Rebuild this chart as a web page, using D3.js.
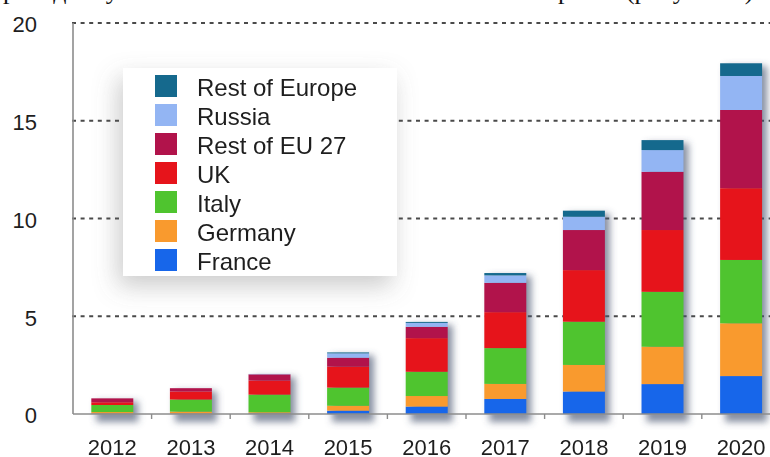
<!DOCTYPE html>
<html>
<head>
<meta charset="utf-8">
<script src="https://cdn.jsdelivr.net/npm/d3@7"></script>
<style>
  html, body { margin: 0; padding: 0; background: #fff; }
  svg { display: block; }
</style>
</head>
<body>
<svg id="chart" width="770" height="457"></svg>
<script>
// Installed capacity by market, stacked per year
const years = ["2012", "2013", "2014", "2015", "2016", "2017", "2018", "2019", "2020"];
const seriesNames = ["France", "Germany", "Italy", "UK", "Rest of EU 27", "Russia", "Rest of Europe"];
const seriesColors = ["#1766ea", "#f99a2e", "#4fc42f", "#e6141b", "#b1134b", "#93b5f3", "#15698d"];

const france     = [0.02, 0.02, 0.03, 0.17, 0.38, 0.77, 1.15, 1.53, 1.94];
const germany    = [0.08, 0.10, 0.06, 0.25, 0.54, 0.77, 1.36, 1.91, 2.70];
const italy      = [0.36, 0.62, 0.90, 0.93, 1.24, 1.83, 2.21, 2.81, 3.24];
const uk         = [0.14, 0.41, 0.72, 1.07, 1.72, 1.84, 2.64, 3.16, 3.67];
const restEU     = [0.20, 0.17, 0.32, 0.46, 0.58, 1.50, 2.05, 2.98, 4.00];
const russia     = [0.00, 0.00, 0.02, 0.22, 0.20, 0.38, 0.68, 1.11, 1.74];
const restEurope = [0.00, 0.00, 0.00, 0.05, 0.05, 0.12, 0.31, 0.51, 0.65];

const yTicks = [0, 5, 10, 15, 20];
const gridTicks = [5, 10, 15, 20];

const seriesValues = [france, germany, italy, uk, restEU, russia, restEurope];
const rows = years.map((year, i) => {
  const row = { year };
  seriesNames.forEach((name, k) => { row[name] = seriesValues[k][i]; });
  return row;
});

const svg = d3.select("#chart");
const W = 770;

const x = d3.scaleBand()
  .domain(years)
  .range([73, 780.4])
  .paddingInner(0.466)
  .paddingOuter(0.233);

const y = d3.scaleLinear().domain([0, 20]).range([414, 23]);

const color = d3.scaleOrdinal().domain(seriesNames).range(seriesColors);

const stack = d3.stack().keys(seriesNames);
const stacked = stack(rows);
const totals = rows.map(r => d3.sum(seriesNames, k => r[k]));

// Filters: soft bar shadow and legend shadow
const defs = svg.append("defs");
const barShadow = defs.append("filter").attr("id", "barShadow")
  .attr("x", "-30%").attr("y", "-10%").attr("width", "170%").attr("height", "130%");
barShadow.append("feGaussianBlur").attr("stdDeviation", 3.5);

const legendShadow = defs.append("filter").attr("id", "legendShadow")
  .attr("x", "-30%").attr("y", "-30%").attr("width", "160%").attr("height", "170%");
legendShadow.append("feDropShadow")
  .attr("dx", -5).attr("dy", 10).attr("stdDeviation", 12)
  .attr("flood-color", "#6b6b6b").attr("flood-opacity", 0.35);

// Line of body text above the chart (only its lowest part falls inside the frame)
svg.append("text")
  .attr("y", -1)
  .attr("font-family", "'Liberation Serif', 'Times New Roman', serif")
  .attr("font-size", 26)
  .attr("fill", "#111")
  .call(t => {
    t.append("tspan").attr("x", -11).text("приведенную ниже на основе емкости и темпов");
    t.append("tspan").attr("x", 558).text("роста (рисунок 3)");
  });

// Dashed grid lines
svg.append("g").selectAll("line")
  .data(gridTicks)
  .join("line")
  .attr("x1", 72).attr("x2", W)
  .attr("y1", d => y(d)).attr("y2", d => y(d))
  .attr("stroke", "#4a4a4a")
  .attr("stroke-width", 1.8)
  .attr("stroke-dasharray", "4,4.6");

// Y axis labels
const yAxis = d3.axisLeft(y).tickValues(yTicks).tickSize(0).tickPadding(36);
svg.append("g")
  .attr("transform", "translate(73,0)")
  .call(yAxis)
  .call(g => g.select(".domain").remove())
  .call(g => g.selectAll("text")
    .attr("dy", "0.4em")
    .attr("font-family", "'Liberation Sans', Arial, sans-serif")
    .attr("font-size", 22)
    .attr("fill", "#1e1e1e"));

// Axis lines
svg.append("line")
  .attr("x1", 73).attr("x2", 73)
  .attr("y1", y(20)).attr("y2", y(0))
  .attr("stroke", "#8c8c8c").attr("stroke-width", 1.6);

// Bar shadows
svg.append("g")
  .attr("filter", "url(#barShadow)")
  .selectAll("rect")
  .data(years)
  .join("rect")
  .attr("x", d => x(d) + 5)
  .attr("width", x.bandwidth())
  .attr("y", (d, i) => y(totals[i]) + 3)
  .attr("height", (d, i) => y(0) - y(totals[i]) + 5)
  .attr("fill", "#4a5570")
  .attr("opacity", 0.65);

// Stacked bars
svg.append("g")
  .selectAll("g")
  .data(stacked)
  .join("g")
  .attr("fill", d => color(d.key))
  .selectAll("rect")
  .data(d => d)
  .join("rect")
  .attr("x", d => x(d.data.year))
  .attr("width", x.bandwidth())
  .attr("y", d => y(d[1]))
  .attr("height", d => Math.max(0, y(d[0]) - y(d[1])));

// X axis baseline with ticks between categories
svg.append("line")
  .attr("x1", 73).attr("x2", W)
  .attr("y1", y(0)).attr("y2", y(0))
  .attr("stroke", "#8c8c8c").attr("stroke-width", 1.6);

const gap = x.step() - x.bandwidth();
svg.append("g").selectAll("line")
  .data(years.slice(1))
  .join("line")
  .attr("x1", d => x(d) - gap / 2).attr("x2", d => x(d) - gap / 2)
  .attr("y1", y(0)).attr("y2", y(0) + 5)
  .attr("stroke", "#8c8c8c").attr("stroke-width", 1.4);

const xAxis = d3.axisBottom(x).tickSize(0).tickPadding(0);
svg.append("g")
  .attr("transform", `translate(0,${y(0)})`)
  .call(xAxis)
  .call(g => g.select(".domain").remove())
  .call(g => g.selectAll("text")
    .attr("y", 41)
    .attr("dy", null)
    .attr("font-family", "'Liberation Sans', Arial, sans-serif")
    .attr("font-size", 22)
    .attr("fill", "#1e1e1e"));

// Legend
const legend = svg.append("g");
legend.append("rect")
  .attr("x", 123).attr("y", 68)
  .attr("width", 274).attr("height", 208)
  .attr("fill", "#fff")
  .attr("filter", "url(#legendShadow)");

const legendOrder = seriesNames.slice().reverse();
const item = legend.selectAll("g.item")
  .data(legendOrder)
  .join("g")
  .attr("class", "item")
  .attr("transform", (d, i) => `translate(0,${96 + i * 29})`);

item.append("rect")
  .attr("x", 155).attr("y", -21)
  .attr("width", 22).attr("height", 22)
  .attr("fill", d => color(d));

item.append("text")
  .attr("x", 197).attr("y", 0)
  .attr("font-family", "'Liberation Sans', Arial, sans-serif")
  .attr("font-size", 24)
  .attr("fill", "#1e1e1e")
  .text(d => d);
</script>
</body>
</html>
